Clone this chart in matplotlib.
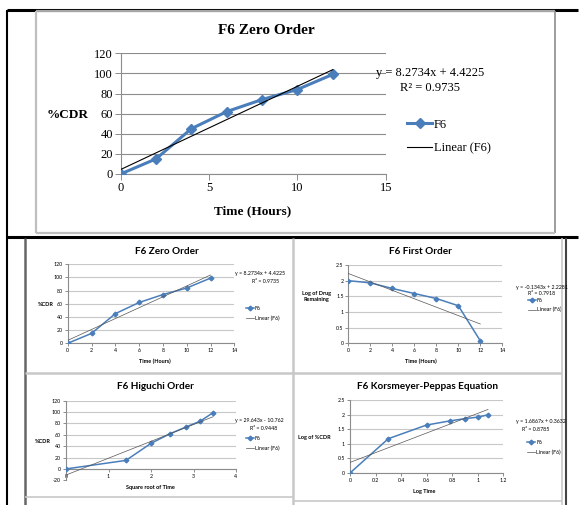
import matplotlib
matplotlib.use('Agg')
import matplotlib.pyplot as plt
from matplotlib.lines import Line2D
import numpy as np

W, H = 579, 505

# ---------------- data ----------------
time_h = [0, 2, 4, 6, 8, 10, 12]
cdr = [0, 15, 45, 62, 74, 84, 99]
log_remaining = [2.0, 1.93, 1.75, 1.59, 1.43, 1.2, 0.08]
sqrt_time = [0, 1.41, 2.0, 2.45, 2.83, 3.16, 3.46]
log_time = [0, 0.30, 0.60, 0.78, 0.90, 1.0, 1.08]
log_cdr = [0, 1.18, 1.65, 1.79, 1.87, 1.92, 2.0]

zero_fit = [8.2734, 4.4225]
first_fit = [-0.1343, 2.2281]
higuchi_fit = [29.643, -10.762]
kp_fit = [1.6867, 0.3632]

zero_eq = ["y = 8.2734x + 4.4225", "R² = 0.9735"]
first_eq = ["y = -0.1343x + 2.2281", "R² = 0.7918"]
higuchi_eq = ["y = 29.643x - 10.762", "R² = 0.9448"]
kp_eq = ["y = 1.6867x + 0.3632", "R² = 0.8785"]

BLUE = '#4a7ebb'
SERIF = 'Liberation Serif'
SANS = 'Lato'

fig = plt.figure(figsize=(W / 100, H / 100), dpi=100)
fig.patch.set_facecolor('white')


def fx(x):
    return x / W


def fy(y):
    return 1 - y / H


def fline(x0, y0, x1, y1, color, lw):
    fig.add_artist(Line2D([fx(x0), fx(x1)], [fy(y0), fy(y1)], color=color,
                          lw=lw, transform=fig.transFigure, solid_capstyle='butt'))


def ftext(x, y, s, **kw):
    fig.text(fx(x), fy(y), s, **kw)


def make_ax(l, r, t, b):
    return fig.add_axes([fx(l), fy(b), (r - l) / W, (b - t) / H])


def style_ax(ax, xlim, ylim, xticks, yticks, xlabels, ylabels, fam, fs,
             gridc, axc, ticklen, zero_axis=False):
    for s in ['top', 'right']:
        ax.spines[s].set_visible(False)
    for s in ['left', 'bottom']:
        ax.spines[s].set_color(axc)
        ax.spines[s].set_linewidth(0.8)
    if zero_axis:
        ax.spines['bottom'].set_position(('data', 0))
    ax.set_xlim(*xlim)
    ax.set_ylim(*ylim)
    ax.set_xticks(xticks)
    ax.set_yticks(yticks)
    ax.set_xticklabels(xlabels, family=fam, fontsize=fs)
    ax.set_yticklabels(ylabels, family=fam, fontsize=fs)
    ax.tick_params(axis='both', direction='out', length=ticklen, width=0.7,
                   color=axc, pad=1.5, labelsize=fs)
    ax.yaxis.grid(True, color=gridc, lw=0.8)
    ax.set_axisbelow(True)
    ax.patch.set_alpha(0)


def draw_series(ax, x, y, fit, lw, ms, trend_c, trend_lw):
    line, = ax.plot(x, y, color=BLUE, lw=lw, marker='D', ms=ms, zorder=3,
                    label='F6')
    xs = np.array([min(x), max(x)])
    tr, = ax.plot(xs, fit[0] * xs + fit[1], color=trend_c, lw=trend_lw,
                  zorder=4, label='Linear (F6)')
    return line, tr


def add_legend(ax, handles, x0, ytop, fam, fs, hlen, spacing):
    leg = ax.legend(handles=handles, loc='upper left',
                    bbox_to_anchor=(fx(x0), fy(ytop)),
                    bbox_transform=fig.transFigure, frameon=False,
                    borderpad=0, borderaxespad=0, handlelength=hlen,
                    handletextpad=0.15, labelspacing=spacing, numpoints=1,
                    prop={'family': fam, 'size': fs})
    return leg


# ---------------- frames ----------------
fline(7, 9.5, 578, 9.5, 'black', 2.2)
fline(7, 9.5, 7, 505, 'black', 1.5)
fline(7, 236.5, 578, 236.5, 'black', 2.2)
# top chart gray frame
fline(36, 11, 555, 11, '#a6a6a6', 1.6)
fline(36, 11, 36, 233, '#bfbfbf', 1.6)
fline(555, 11, 555, 233, '#8c8c8c', 1.2)
fline(36, 233, 555, 233, '#bfbfbf', 1.6)
# bottom grid frames
fline(25.5, 238, 25.5, 505, '#666666', 1.8)
fline(293, 238, 293, 505, '#c8c8c8', 1.8)
fline(25.5, 372.5, 562, 372.5, '#c8c8c8', 1.8)
fline(562, 238, 562, 505, '#c8c8c8', 1.2)
fline(565.5, 238, 565.5, 505, '#444444', 1.5)
fline(25.5, 497, 293, 497, '#c8c8c8', 1.2)
fline(293, 501, 562, 501, '#c8c8c8', 1.2)

# ---------------- top chart ----------------
ax = make_ax(120.6, 385.7, 53.3, 174)
style_ax(ax, (0, 15), (0, 120), [0, 5, 10, 15], list(range(0, 121, 20)),
         ['0', '5', '10', '15'], [str(v) for v in range(0, 121, 20)],
         SERIF, 9, '#8c8c8c', '#8c8c8c', 4)
h = draw_series(ax, time_h, cdr, zero_fit, 2.2, 5, 'black', 0.8)
add_legend(ax, list(h), 407, 118.5, SERIF, 9, 2.0, 0.95)
ftext(266.7, 30, 'F6 Zero Order', family=SERIF, weight='bold', fontsize=11,
      ha='center', va='center')
ftext(68, 115, '%CDR', family=SERIF, weight='bold', fontsize=9.5,
      ha='center', va='center')
ftext(253, 211, 'Time (Hours)', family=SERIF, weight='bold', fontsize=9.5,
      ha='center', va='center')
ftext(376, 73, zero_eq[0], family=SERIF, fontsize=9, ha='left', va='center')
ftext(430, 88, zero_eq[1], family=SERIF, fontsize=9, ha='center', va='center')

# ---------------- bottom panels ----------------
SFS = 3.8
TFS = 7.2
LFS = 4.0
GRID = '#c8c8c8'
AXC = '#8c8c8c'


def small_panel(rect, xlim, ylim, xticks, yticks, xl, yl, x, y, fit, eq,
                title, tpos, ylab, ypos, xlab, xpos, eqpos, r2pos, legpos,
                zero_axis=False):
    a = make_ax(*rect)
    style_ax(a, xlim, ylim, xticks, yticks, xl, yl, SANS, SFS, GRID, AXC, 2,
             zero_axis=zero_axis)
    hh = draw_series(a, x, y, fit, 1.1, 2.4, '#555555', 0.5)
    add_legend(a, list(hh), legpos[0], legpos[1], SANS, SFS, 1.5, 0.85)
    ftext(tpos[0], tpos[1], title, family=SANS, weight='bold', fontsize=TFS,
          ha='center', va='center')
    ftext(ypos[0], ypos[1], ylab, family=SANS, weight='bold', fontsize=LFS,
          ha='center', va='center', linespacing=1.1)
    ftext(xpos[0], xpos[1], xlab, family=SANS, weight='bold', fontsize=LFS,
          ha='center', va='center')
    ftext(eqpos[0], eqpos[1], eq[0], family=SANS, fontsize=SFS, ha='left',
          va='center')
    ftext(r2pos[0], r2pos[1], eq[1], family=SANS, fontsize=SFS, ha='center',
          va='center')
    return a


small_panel((67.7, 234.3, 264.3, 343.3), (0, 14), (0, 120),
            list(range(0, 15, 2)), list(range(0, 121, 20)),
            [str(v) for v in range(0, 15, 2)], [str(v) for v in range(0, 121, 20)],
            time_h, cdr, zero_fit, zero_eq, 'F6 Zero Order', (166.7, 251),
            '%CDR', (46, 305), 'Time (Hours)', (155, 361.7),
            (235, 274), (265, 281.7), (246, 305.8))

small_panel((348.3, 502.3, 265, 343.3), (0, 14), (0, 2.5),
            list(range(0, 15, 2)), [0, 0.5, 1, 1.5, 2, 2.5],
            [str(v) for v in range(0, 15, 2)], ['0', '0.5', '1', '1.5', '2', '2.5'],
            time_h, log_remaining, first_fit, first_eq, 'F6 First Order',
            (420.7, 251), 'Log of Drug\nRemaining', (316, 296.5),
            'Time (Hours)', (421, 361.7), (515.7, 287.3), (542, 293.3),
            (528, 297.5))

small_panel((66, 236, 400.7, 480.3), (0, 4), (-20, 120),
            [0, 1, 2, 3, 4], list(range(-20, 121, 20)),
            ['0', '1', '2', '3', '4'], [str(v) for v in range(-20, 121, 20)],
            sqrt_time, cdr, higuchi_fit, higuchi_eq, 'F6 Higuchi Order',
            (155, 386.3), '%CDR', (43, 441.3), 'Square root of Time',
            (150, 488), (235, 420.7), (263.3, 428), (246, 435.8),
            zero_axis=True)

small_panel((350, 503.3, 400.3, 473), (0, 1.2), (0, 2.5),
            [0, 0.2, 0.4, 0.6, 0.8, 1, 1.2], [0, 0.5, 1, 1.5, 2, 2.5],
            ['0', '0.2', '0.4', '0.6', '0.8', '1', '1.2'],
            ['0', '0.5', '1', '1.5', '2', '2.5'],
            log_time, log_cdr, kp_fit, kp_eq, 'F6 Korsmeyer-Peppas Equation',
            (427.3, 386.3), 'Log of %CDR', (314, 438), 'Log Time',
            (424, 491.3), (515.7, 421.3), (535.7, 429.7), (527.3, 439.8))

fig.savefig('out.png', dpi=100)
